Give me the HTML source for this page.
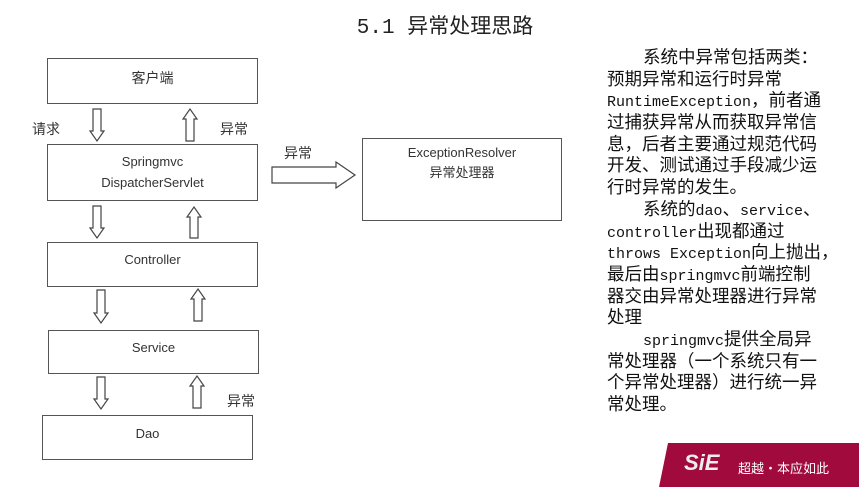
<!DOCTYPE html>
<html><head><meta charset="utf-8"><style>
body{margin:0;width:859px;height:487px;background:#fff;position:relative;overflow:hidden;font-family:"Liberation Sans","Noto Sans CJK SC",sans-serif;color:#222}
.b{position:absolute;border:1.5px solid #555;box-sizing:border-box;text-align:center;font-size:13px;color:#333}
.l{position:absolute;font-size:14px;color:#333}
.t{position:absolute;left:607px;top:48px;font-family:"Liberation Mono","Noto Sans CJK SC",monospace;font-size:15px;color:#111}
.t div{height:21.7px;line-height:21.7px;white-space:pre}
.t .c{font-family:"Noto Sans CJK SC",sans-serif;font-size:17.5px;line-height:1}
</style></head><body>
<div style="position:absolute;left:0;width:890px;top:10px;text-align:center;font-size:21px;font-family:'Liberation Mono','Noto Sans CJK SC',monospace;color:#222">5.1 异常处理思路</div>

<div class="b" style="left:47px;top:58px;width:211px;height:46px;line-height:38px;font-size:14px">客户端</div>
<div class="b" style="left:47px;top:144px;width:211px;height:57px;padding-top:6px;line-height:21px">Springmvc<br>DispatcherServlet</div>
<div class="b" style="left:47px;top:242px;width:211px;height:45px;line-height:34px">Controller</div>
<div class="b" style="left:48px;top:330px;width:211px;height:44px;line-height:34px">Service</div>
<div class="b" style="left:42px;top:415px;width:211px;height:45px;line-height:36px">Dao</div>
<div class="b" style="left:362px;top:138px;width:200px;height:83px;padding-top:4px;line-height:20px">ExceptionResolver<br>异常处理器</div>

<div class="l" style="left:32px;top:119px">请求</div>
<div class="l" style="left:220px;top:119px">异常</div>
<div class="l" style="left:284px;top:143px">异常</div>
<div class="l" style="left:227px;top:391px">异常</div>

<svg width="859" height="487" style="position:absolute;left:0;top:0" fill="#fff" stroke="#444" stroke-width="1.2">
<polygon points="93,109 101,109 101,131 104,131 97,141 90,131 93,131"/>
<polygon points="186,141 194,141 194,119 197,119 190,109 183,119 186,119"/>
<polygon points="93,206 101,206 101,228 104,228 97,238 90,228 93,228"/>
<polygon points="190,238 198,238 198,217 201,217 194,207 187,217 190,217"/>
<polygon points="97,290 105,290 105,313 108,313 101,323 94,313 97,313"/>
<polygon points="194,321 202,321 202,299 205,299 198,289 191,299 194,299"/>
<polygon points="97,377 105,377 105,399 108,399 101,409 94,399 97,399"/>
<polygon points="193,408 201,408 201,386 204,386 197,376 190,386 193,386"/>
<polygon points="272,167 336,167 336,162 355,175 336,188 336,183 272,183"/>
</svg>

<div class="t"><div>    <span class="c">系统中异常包括两类：</span></div><div><span class="c">预期异常和运行时异常</span></div><div>RuntimeException<span class="c">，前者通</span></div><div><span class="c">过捕获异常从而获取异常信</span></div><div><span class="c">息，后者主要通过规范代码</span></div><div><span class="c">开发、测试通过手段减少运</span></div><div><span class="c">行时异常的发生。</span></div><div>    <span class="c">系统的</span>dao<span class="c">、</span>service<span class="c">、</span></div><div>controller<span class="c">出现都通过</span></div><div>throws Exception<span class="c">向上抛出，</span></div><div><span class="c">最后由</span>springmvc<span class="c">前端控制</span></div><div><span class="c">器交由异常处理器进行异常</span></div><div><span class="c">处理</span></div><div>    springmvc<span class="c">提供全局异</span></div><div><span class="c">常处理器（一个系统只有一</span></div><div><span class="c">个异常处理器）进行统一异</span></div><div><span class="c">常处理。</span></div></div>

<svg width="200" height="44" style="position:absolute;left:659px;top:443px"><polygon points="9,0 200,0 200,44 0,44" fill="#a00a3c"/></svg>
<div style="position:absolute;left:684px;top:450px;font:italic bold 22px 'Liberation Sans',sans-serif;color:#eee">SiE</div>
<div style="position:absolute;left:738px;top:458px;font-size:13px;color:#fff;font-family:'Noto Sans CJK SC',sans-serif">超越·本应如此</div>
</body></html>
